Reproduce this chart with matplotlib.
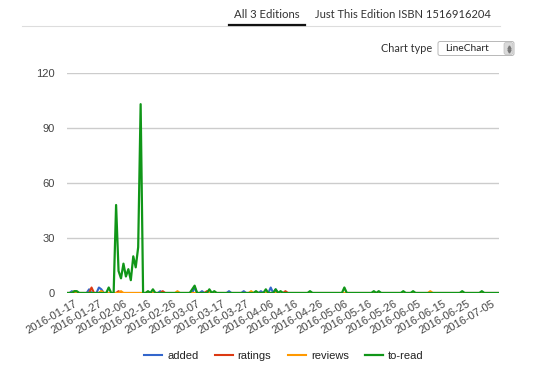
import matplotlib
matplotlib.use("Agg")
import matplotlib.pyplot as plt
import matplotlib.dates as mdates
import pandas as pd
from matplotlib.patches import FancyBboxPatch

# daily counts, 2016-01-14 .. 2016-07-08 (177 days), ten per row
added = [
    0, 0, 1, 0, 0, 0, 0, 0, 0, 2,
    0, 0, 0, 3, 2, 0, 0, 0, 0, 0,
    0, 0, 0, 0, 0, 0, 0, 0, 0, 0,
    0, 0, 0, 0, 0, 0, 0, 0, 1, 0,
    0, 0, 0, 0, 0, 0, 0, 0, 0, 0,
    0, 0, 3, 0, 0, 1, 0, 0, 0, 0,
    0, 0, 0, 0, 0, 0, 1, 0, 0, 0,
    0, 0, 1, 0, 0, 0, 0, 0, 0, 1,
    0, 0, 0, 3, 0, 2, 0, 0, 0, 0,
    0, 0, 0, 0, 0, 0, 0, 0, 0, 0,
    0, 0, 0, 0, 0, 0, 0, 0, 0, 0,
    0, 0, 0, 0, 0, 0, 0, 0, 0, 0,
    0, 0, 0, 0, 0, 0, 0, 0, 0, 0,
    0, 0, 0, 0, 0, 0, 0, 0, 0, 0,
    0, 0, 0, 0, 0, 0, 0, 0, 0, 0,
    0, 0, 0, 0, 0, 0, 0, 0, 0, 0,
    0, 0, 0, 0, 0, 0, 0, 0, 0, 0,
    0, 0, 0, 0, 0, 0, 0,
]
ratings = [
    0, 0, 0, 0, 0, 0, 0, 0, 0, 0,
    3, 0, 0, 0, 1, 0, 0, 0, 0, 0,
    0, 1, 0, 0, 0, 0, 0, 0, 0, 0,
    0, 0, 0, 0, 0, 0, 0, 0, 0, 1,
    0, 0, 0, 0, 0, 0, 0, 0, 0, 0,
    0, 0, 0, 0, 0, 0, 0, 1, 0, 0,
    0, 0, 0, 0, 0, 0, 0, 0, 0, 0,
    0, 0, 0, 0, 0, 0, 0, 0, 0, 0,
    0, 0, 0, 0, 0, 0, 0, 0, 0, 1,
    0, 0, 0, 0, 0, 0, 0, 0, 0, 0,
    0, 0, 0, 0, 0, 0, 0, 0, 0, 0,
    0, 0, 0, 0, 0, 0, 0, 0, 0, 0,
    0, 0, 0, 0, 0, 0, 0, 0, 0, 0,
    0, 0, 0, 0, 0, 0, 0, 0, 0, 0,
    0, 0, 0, 0, 0, 0, 0, 0, 0, 0,
    0, 0, 0, 0, 0, 0, 0, 0, 0, 0,
    0, 0, 0, 0, 0, 0, 0, 0, 0, 0,
    0, 0, 0, 0, 0, 0, 0,
]
reviews = [
    0, 0, 0, 1, 0, 0, 0, 0, 0, 0,
    0, 0, 0, 0, 1, 0, 0, 0, 0, 0,
    0, 0, 1, 0, 0, 0, 0, 0, 0, 0,
    0, 0, 0, 0, 0, 0, 0, 0, 0, 0,
    0, 0, 0, 0, 0, 1, 0, 0, 0, 0,
    0, 0, 0, 0, 0, 0, 0, 0, 0, 0,
    0, 0, 0, 0, 0, 0, 0, 0, 0, 0,
    0, 0, 0, 0, 0, 1, 0, 0, 0, 0,
    0, 0, 0, 0, 0, 0, 0, 0, 0, 0,
    0, 0, 0, 0, 0, 0, 0, 0, 0, 0,
    0, 0, 0, 0, 0, 0, 0, 0, 0, 0,
    0, 0, 0, 0, 0, 0, 0, 0, 0, 0,
    0, 0, 0, 0, 0, 0, 0, 0, 0, 0,
    0, 0, 0, 0, 0, 0, 0, 0, 0, 0,
    0, 0, 0, 0, 0, 0, 0, 0, 1, 0,
    0, 0, 0, 0, 0, 0, 0, 0, 0, 0,
    0, 0, 0, 0, 0, 0, 0, 0, 0, 0,
    0, 0, 0, 0, 0, 0, 0,
]
to_read = [
    0, 0, 0, 1, 1, 0, 0, 0, 0, 0,
    0, 0, 0, 0, 0, 0, 0, 3, 0, 0,
    48, 12, 8, 16, 9, 13, 7, 20, 14, 25,
    103, 0, 0, 1, 0, 2, 0, 0, 0, 0,
    0, 0, 0, 0, 0, 0, 0, 0, 0, 0,
    0, 2, 4, 0, 0, 0, 0, 0, 2, 0,
    1, 0, 0, 0, 0, 0, 0, 0, 0, 0,
    0, 0, 0, 0, 0, 0, 0, 1, 0, 0,
    0, 2, 0, 0, 0, 2, 0, 1, 0, 0,
    0, 0, 0, 0, 0, 0, 0, 0, 0, 1,
    0, 0, 0, 0, 0, 0, 0, 0, 0, 0,
    0, 0, 0, 3, 0, 0, 0, 0, 0, 0,
    0, 0, 0, 0, 0, 1, 0, 1, 0, 0,
    0, 0, 0, 0, 0, 0, 0, 1, 0, 0,
    0, 1, 0, 0, 0, 0, 0, 0, 0, 0,
    0, 0, 0, 0, 0, 0, 0, 0, 0, 0,
    0, 1, 0, 0, 0, 0, 0, 0, 0, 1,
    0, 0, 0, 0, 0, 0, 0,
]
first_day, last_day = "2016-01-14", "2016-07-08"
tick_labels = [
    "2016-01-17", "2016-01-27", "2016-02-06", "2016-02-16", "2016-02-26",
    "2016-03-07", "2016-03-17", "2016-03-27", "2016-04-06", "2016-04-16",
    "2016-04-26", "2016-05-06", "2016-05-16", "2016-05-26", "2016-06-05",
    "2016-06-15", "2016-06-25", "2016-07-05",
]
y_ticks = [0, 30, 60, 90, 120]

W, H = 540, 372
fig = plt.figure(figsize=(W / 100, H / 100), dpi=100)
ax = fig.add_axes([67 / W, 1 - 293 / H, (499 - 67) / W, (293 - 73) / H])

days = pd.date_range(first_day, last_day, freq="D")
ax.plot(days, added, color="#3366cc", lw=1.5, label="added")
ax.plot(days, ratings, color="#dc3912", lw=1.5, label="ratings")
ax.plot(days, reviews, color="#ff9900", lw=1.5, label="reviews")
ax.plot(days, to_read, color="#109618", lw=1.6, label="to-read")

ax.set_xlim(days[0], days[-1])
ax.set_ylim(0, 120)
ax.set_yticks(y_ticks)
ax.set_xticks(pd.to_datetime(tick_labels))
ax.xaxis.set_major_formatter(mdates.DateFormatter("%Y-%m-%d"))
plt.setp(ax.get_xticklabels(), rotation=30, ha="right", rotation_mode="anchor")
for lab in ax.get_xticklabels() + ax.get_yticklabels():
    lab.set_family("Liberation Sans")
    lab.set_fontsize(8)
    lab.set_color("#444444")
ax.tick_params(axis="both", length=0)
ax.tick_params(axis="y", pad=9)
ax.tick_params(axis="x", pad=4)
ax.grid(axis="y", color="#cccccc", lw=1)
ax.set_axisbelow(True)
for s in ax.spines.values():
    s.set_visible(False)

leg = fig.legend(loc="center", bbox_to_anchor=(284 / W, 1 - 356 / H), ncol=4,
                 frameon=False, handlelength=1.6, columnspacing=1.5,
                 handletextpad=0.45, prop={"family": "Liberation Sans", "size": 8})
for t in leg.get_texts():
    t.set_color("#222222")

# page header drawn in pixel coordinates
ov = fig.add_axes([0, 0, 1, 1], facecolor="none")
ov.set_xlim(0, W)
ov.set_ylim(H, 0)
ov.axis("off")
ov.plot([22, 500], [26, 26], color="#dddddd", lw=0.8)
ov.plot([229, 305], [24.5, 24.5], color="#111111", lw=1.6)
ov.text(267, 15, "All 3 Editions", family="Lato", fontsize=8.2,
        color="#333333", ha="center", va="center")
ov.text(403, 15, "Just This Edition ISBN 1516916204", family="Lato",
        fontsize=8.0, color="#333333", ha="center", va="center")
ov.text(432, 48.5, "Chart type", family="Lato", fontsize=7.8,
        color="#333333", ha="right", va="center")
ov.add_patch(FancyBboxPatch((438, 41.5), 76, 14, boxstyle="round,pad=0,rounding_size=2",
                            fc="white", ec="#b8b8b8", lw=0.7))
ov.text(445, 48.5, "LineChart", family="Lato", fontsize=7.3,
        color="#222222", ha="left", va="center")
ov.add_patch(FancyBboxPatch((504, 42.5), 9, 12, boxstyle="round,pad=0,rounding_size=2",
                            fc="#d9d9d9", ec="#c0c0c0", lw=0.5))
ov.plot([508.5], [46.5], marker="^", ms=2.2, color="#777777")
ov.plot([508.5], [50.5], marker="v", ms=2.2, color="#777777")

fig.savefig("out.png", dpi=100)
